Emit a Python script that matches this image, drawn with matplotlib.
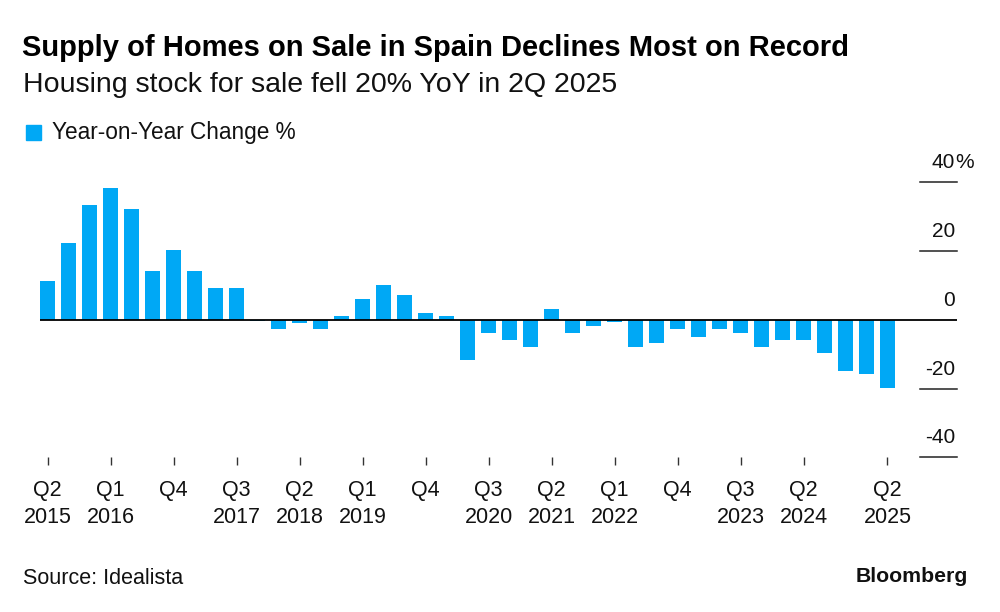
import numpy as np
import pandas as pd
import matplotlib
matplotlib.use("Agg")
import matplotlib.pyplot as plt

plt.rcParams['font.family'] = ['Liberation Sans', 'DejaVu Sans']

# quarterly YoY change of homes for sale, 2Q 2015 .. 2Q 2025
quarters = pd.period_range('2015Q2', '2025Q2', freq='Q')
yoy_change = [11.2, 22.4, 33.3, 38.4, 32.3, 14.3, 20.3, 14.3, 9.2, 9.2,
              -0.4, -2.7, -0.8, -2.7, 1.2, 6.1, 10.2, 7.1, 2.1, 1.2,
              -11.7, -3.7, -5.8, -7.8, 3.1, -3.7, -1.7, -0.7, -7.8, -6.8,
              -2.7, -4.9, -2.7, -3.8, -7.9, -5.8, -5.8, -9.8, -14.9, -15.9,
              -19.9]
tick_quarters = ['2015Q2', '2016Q1', '2016Q4', '2017Q3', '2018Q2', '2019Q1',
                 '2019Q4', '2020Q3', '2021Q2', '2022Q1', '2022Q4', '2023Q3',
                 '2024Q2', '2025Q2']
y_ticks = [40, 20, 0, -20, -40]

blue = '#00a8f5'
ink = '#111111'

fig = plt.figure(figsize=(10, 6.12), dpi=100)
ax = fig.add_axes([0.04, 1 - 457.3 / 612, 0.917, (457.3 - 182.3) / 612])

x = np.arange(len(quarters))
ax.bar(x, yoy_change, width=0.69, color=blue, zorder=2)
ax.set_xlim(-0.36, 43.31)
ax.set_ylim(-40, 40)

for s in ax.spines.values():
    s.set_visible(False)

ax.axhline(0, color='black', lw=1.3, zorder=3)

# short gridline stubs on the right, labels sit above them
xmin_stub = (920 - 40) / 917
for v in y_ticks:
    if v != 0:
        ax.axhline(v, xmin=xmin_stub, xmax=1.0, color='#222222', lw=1.1, clip_on=False)
    ax.annotate(str(v), xy=(955 / 1000, v), xycoords=('figure fraction', 'data'),
                xytext=(0, 14), textcoords='offset points',
                ha='right', va='center', fontsize=15, color=ink,
                annotation_clip=False)
ax.annotate('%', xy=(955.5 / 1000, 40), xycoords=('figure fraction', 'data'),
            xytext=(0, 14), textcoords='offset points',
            ha='left', va='center', fontsize=15, color=ink,
            annotation_clip=False)
ax.set_yticks([])

tick_pos = []
tick_lab = []
for q in tick_quarters:
    p = pd.Period(q, freq='Q')
    tick_pos.append(list(quarters).index(p))
    if p.quarter == 4:
        tick_lab.append(f'Q{p.quarter}\n')
    else:
        tick_lab.append(f'Q{p.quarter}\n{p.year}')
ax.set_xticks(tick_pos)
ax.set_xticklabels(tick_lab, fontsize=15.5, color=ink, linespacing=1.4, va='top')
ax.tick_params(axis='x', length=6, width=1, color='#333333', pad=10)

fig.text(0.022, 1 - 48 / 612, 'Supply of Homes on Sale in Spain Declines Most on Record',
         fontsize=21, fontweight='bold', ha='left', va='center', color='black')
fig.text(0.023, 1 - 85 / 612, 'Housing stock for sale fell 20% YoY in 2Q 2025',
         fontsize=20.5, ha='left', va='center', color=ink)
fig.patches.append(plt.Rectangle((26 / 1000, 1 - 140 / 612), 15 / 1000, 15 / 612,
                                 transform=fig.transFigure, color=blue))
fig.text(0.052, 1 - 132 / 612, 'Year-on-Year Change %', fontsize=16.3,
         ha='left', va='center', color=ink)
fig.text(0.023, 1 - 578 / 612, 'Source: Idealista', fontsize=15.5,
         ha='left', va='center', color=ink)
fig.text(0.968, 1 - 576 / 612, 'Bloomberg', fontsize=15.3, fontweight='bold',
         ha='right', va='center', color=ink)

fig.savefig('out.png', dpi=100)
